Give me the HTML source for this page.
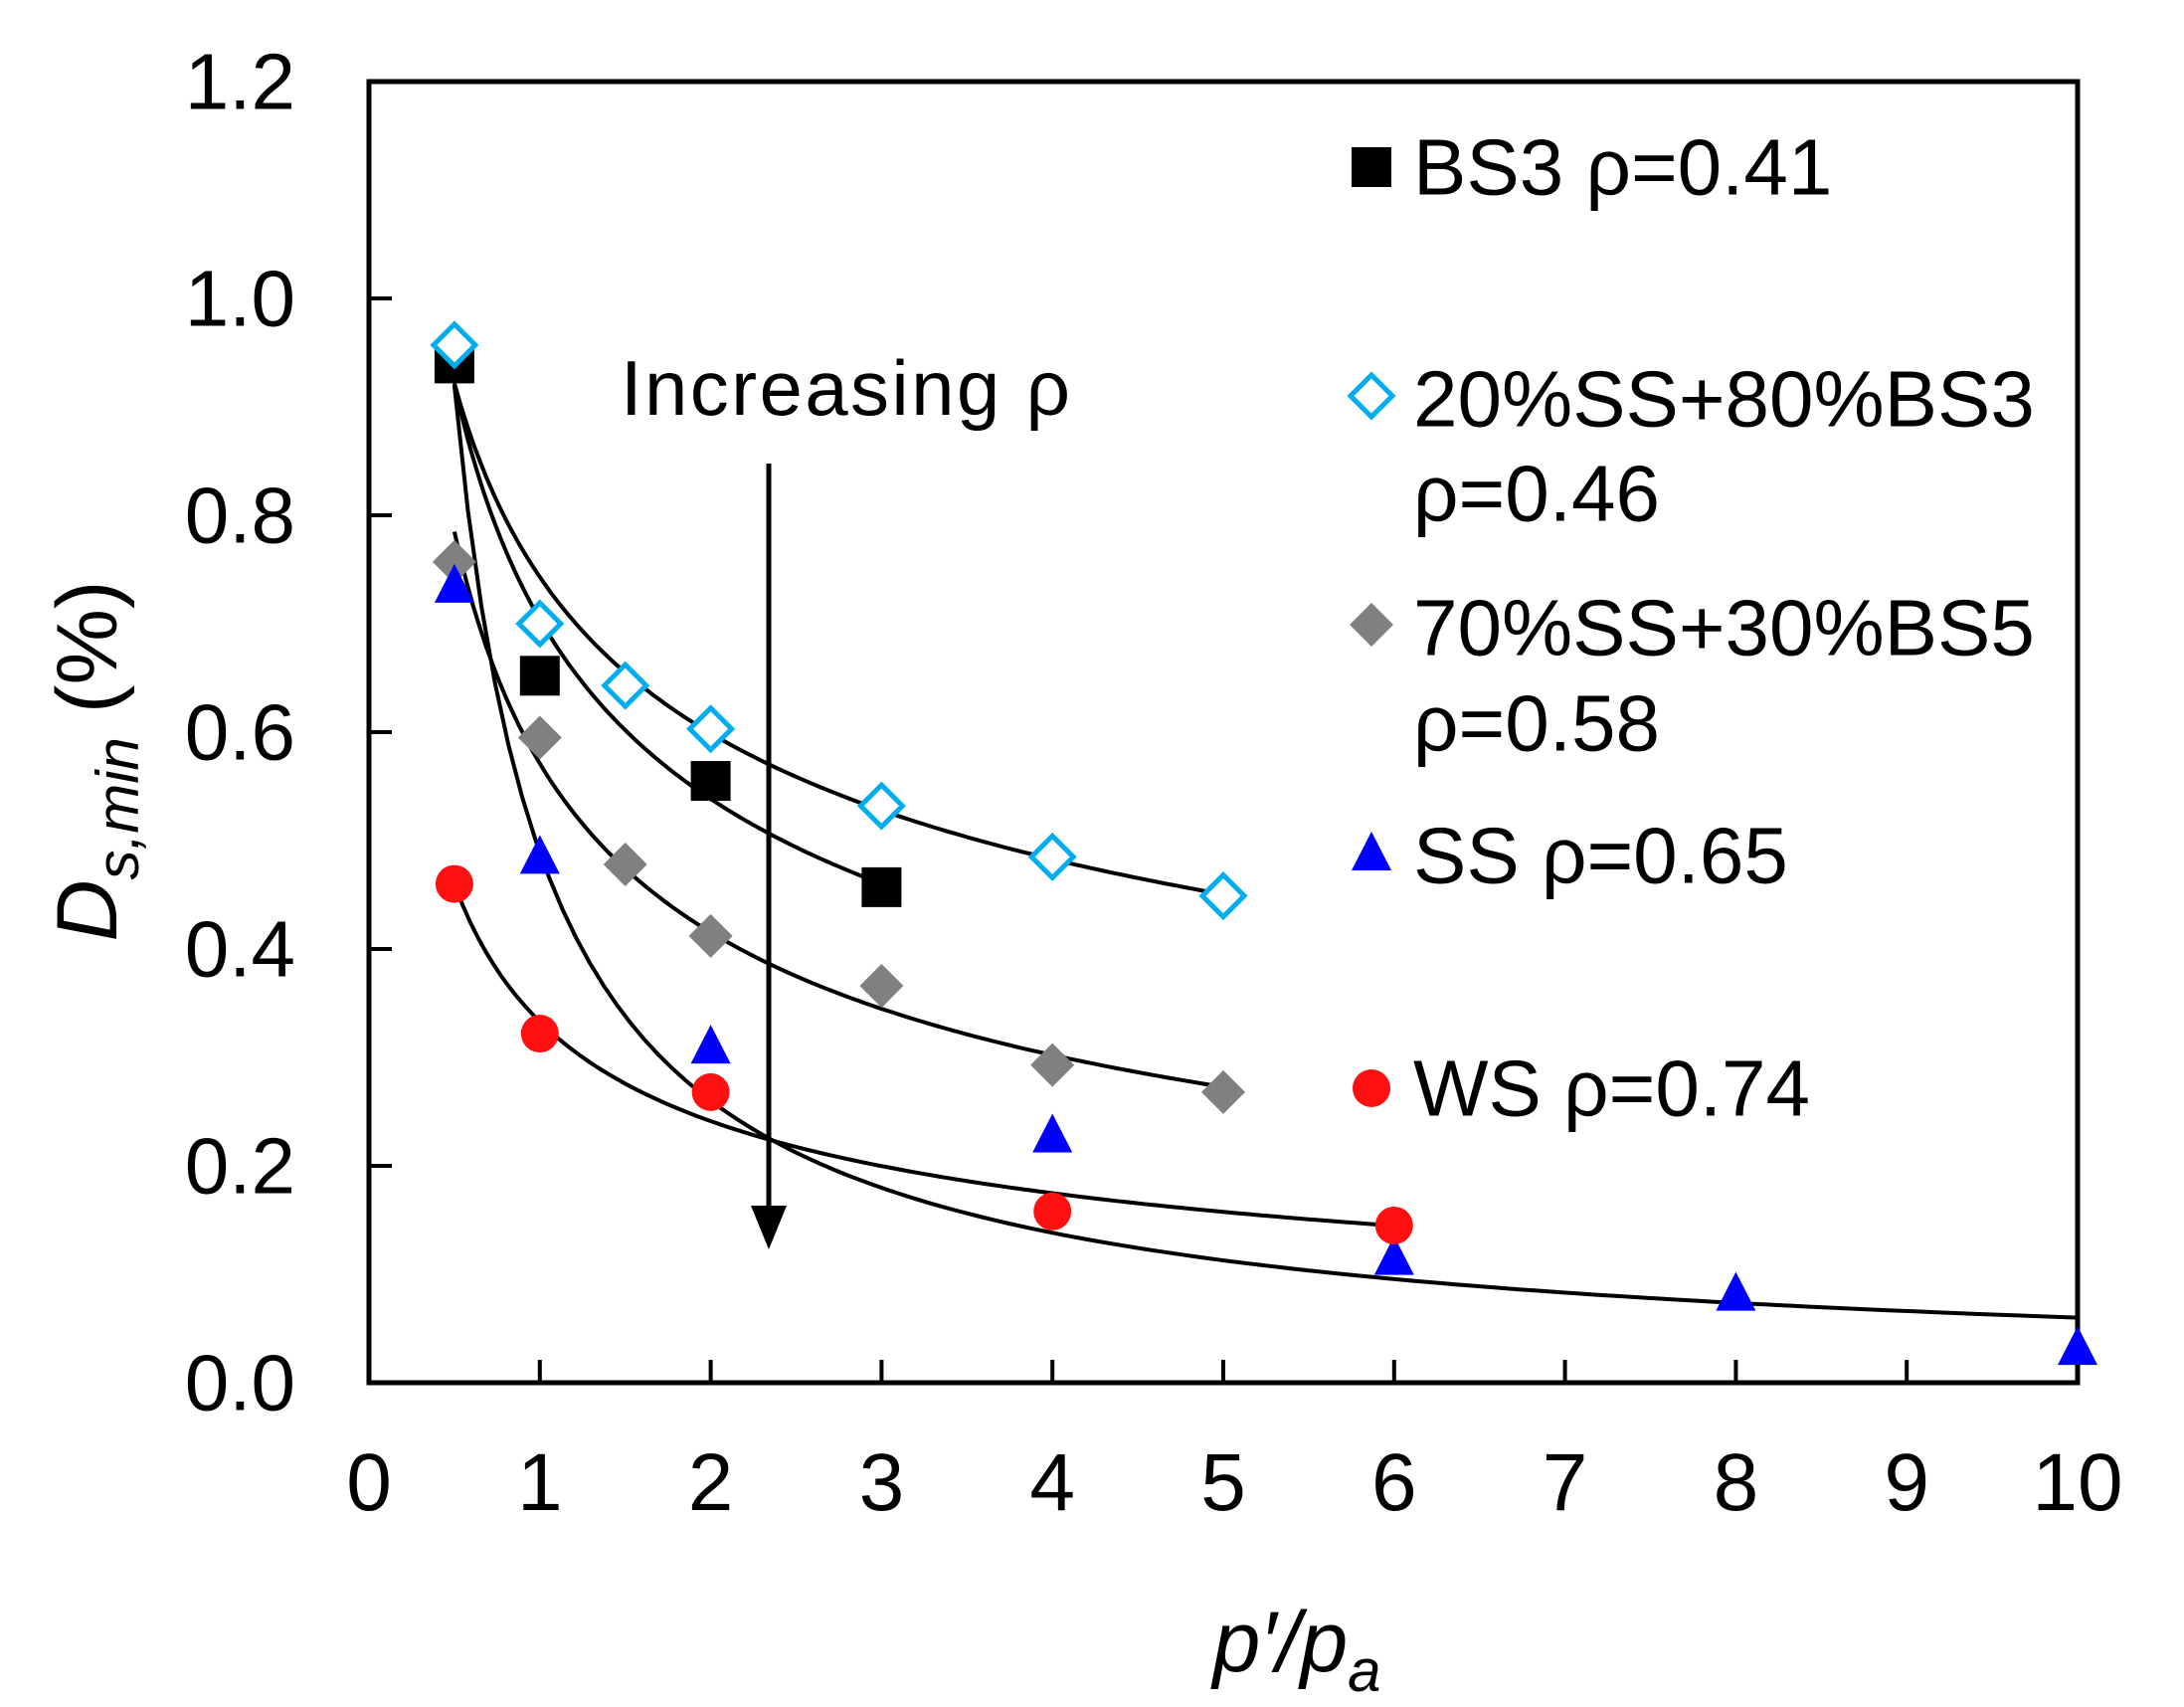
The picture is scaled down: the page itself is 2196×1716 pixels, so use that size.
<!DOCTYPE html>
<html><head><meta charset="utf-8"><style>
html,body{margin:0;padding:0;background:#fff;}
svg{display:block;font-family:"Liberation Sans",Arial,sans-serif;}
</style></head><body>
<svg id="s" width="2196" height="1716" viewBox="0 0 2196 1716" xmlns="http://www.w3.org/2000/svg">
<rect width="2196" height="1716" fill="#fff"/>
<g id="ticks" stroke="#000" stroke-width="4"></g>
<rect x="371" y="82" width="1718" height="1308" fill="none" stroke="#000" stroke-width="5"/>
<g font-size="80" fill="#000" text-anchor="end" dominant-baseline="central">
<text x="297" y="1390">0.0</text><text x="297" y="1172">0.2</text><text x="297" y="954">0.4</text>
<text x="297" y="736">0.6</text><text x="297" y="518">0.8</text><text x="297" y="300">1.0</text><text x="297" y="82">1.2</text>
</g>
<g id="xl" font-size="82" fill="#000" text-anchor="middle"></g>
<text transform="translate(117,765) rotate(-90)" font-size="86" text-anchor="middle" fill="#000"><tspan font-style="italic">D</tspan><tspan font-style="italic" font-size="60" dy="22">s,min</tspan><tspan dy="-22"> (%)</tspan></text>
<text x="1304" y="1680" font-size="86" text-anchor="middle" fill="#000" font-style="italic">p′/p<tspan font-size="60" dy="20">a</tspan></text>
<g id="curves" fill="none" stroke="#000" stroke-width="4"></g>
<g id="marks"></g>
<text x="624" y="390" font-size="78" dominant-baseline="central" fill="#000" textLength="452">Increasing ρ</text>
<line x1="773" y1="466" x2="773" y2="1220" stroke="#000" stroke-width="5"/>
<polygon points="755,1212 791,1212 773,1256" fill="#000"/>
<g font-size="80" fill="#000" dominant-baseline="central">
<text x="1421" y="168">BS3 ρ=0.41</text>
<text x="1421" y="401">20%SS+80%BS3</text>
<text x="1421" y="496">ρ=0.46</text>
<text x="1421" y="631">70%SS+30%BS5</text>
<text x="1421" y="727">ρ=0.58</text>
<text x="1421" y="860">SS ρ=0.65</text>
<text x="1421" y="1094">WS ρ=0.74</text>
</g>
<g id="leg"></g>
</svg>
<script>
var NS="http://www.w3.org/2000/svg";
function X(v){return 371+171.8*v;}function Y(v){return 1390-1090*v;}
function el(p,t,a,txt){var e=document.createElementNS(NS,t);for(var k in a)e.setAttribute(k,a[k]);if(txt!==undefined)e.textContent=txt;document.getElementById(p).appendChild(e);return e;}
for(var i=1;i<10;i++)el('ticks','line',{x1:X(i),x2:X(i),y1:1390,y2:1367});
for(var j=1;j<6;j++)el('ticks','line',{x1:371,x2:394,y1:Y(j*0.2),y2:Y(j*0.2)});
for(var i=0;i<=10;i++)el('xl','text',{x:X(i),y:1518},String(i));
function curve(a,b,x0,x1){var d="";for(var k=0;k<=120;k++){var v=x0+(x1-x0)*k/120;d+=(k?"L":"M")+X(v).toFixed(1)+","+Y(a*Math.pow(v,b)).toFixed(1);}el('curves','path',{d:d});}
curve(0.743,-0.311,0.5,5);curve(0.704,-0.387,0.5,3);curve(0.571,-0.459,0.5,5);
curve(0.489,-0.911,0.5,10);curve(0.333,-0.465,0.5,6);
function sq(g,x,y){el(g,'rect',{x:x-20,y:y-20,width:40,height:40,fill:'#000'});}
function di(g,x,y){el(g,'polygon',{points:(x)+","+(y-21)+" "+(x+21)+","+y+" "+x+","+(y+21)+" "+(x-21)+","+y,fill:'#fff',stroke:'#00aeef','stroke-width':5});}
function gd(g,x,y){el(g,'polygon',{points:(x)+","+(y-22)+" "+(x+22)+","+y+" "+x+","+(y+22)+" "+(x-22)+","+y,fill:'#808080'});}
function tr(g,x,y){el(g,'polygon',{points:(x)+","+(y-22)+" "+(x+20)+","+(y+17)+" "+(x-20)+","+(y+17),fill:'#0000ff'});}
function ci(g,x,y){el(g,'circle',{cx:x,cy:y,r:19,fill:'#ff1010'});}
var d;
d=[[0.5,0.757],[1,0.595],[1.5,0.478],[2,0.412],[3,0.366],[4,0.293],[5,0.268]];d.forEach(function(p){gd('marks',X(p[0]),Y(p[1]));});
d=[[0.5,0.735],[1,0.485],[2,0.31],[4,0.228],[6,0.115],[8,0.082],[10,0.032]];d.forEach(function(p){tr('marks',X(p[0]),Y(p[1]));});
d=[[0.5,0.46],[1,0.322],[2,0.268],[4,0.158],[6,0.145]];d.forEach(function(p){ci('marks',X(p[0]),Y(p[1]));});
d=[[0.5,0.94],[1,0.652],[2,0.555],[3,0.457]];d.forEach(function(p){sq('marks',X(p[0]),Y(p[1]));});
d=[[0.5,0.957],[1,0.70],[1.5,0.643],[2,0.603],[3,0.532],[4,0.485],[5,0.449]];d.forEach(function(p){di('marks',X(p[0]),Y(p[1]));});
sq('leg',1379,168);di('leg',1379,398);gd('leg',1379,628);tr('leg',1379,858);ci('leg',1379,1094);
</script>
</body></html>
